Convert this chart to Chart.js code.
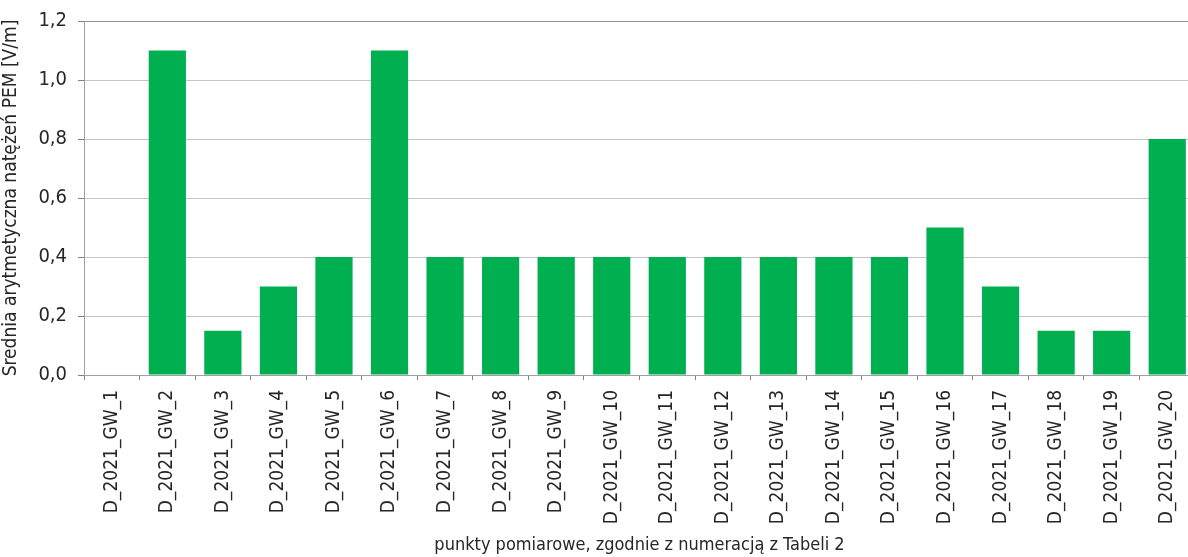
<!DOCTYPE html>
<html>
<head>
<meta charset="utf-8">
<script src="https://cdn.jsdelivr.net/npm/chart.js@4/dist/chart.umd.min.js"></script>
<style>
html,body{margin:0;padding:0;background:#fff;overflow:hidden;}
#wrap{width:1188px;height:557px;position:relative;overflow:hidden;}
canvas{display:block;}
</style>
</head>
<body>
<div id="wrap"><canvas id="c" width="1195" height="557"></canvas></div>
<script>
const categories = ["D_2021_GW_1","D_2021_GW_2","D_2021_GW_3","D_2021_GW_4","D_2021_GW_5","D_2021_GW_6","D_2021_GW_7","D_2021_GW_8","D_2021_GW_9","D_2021_GW_10","D_2021_GW_11","D_2021_GW_12","D_2021_GW_13","D_2021_GW_14","D_2021_GW_15","D_2021_GW_16","D_2021_GW_17","D_2021_GW_18","D_2021_GW_19","D_2021_GW_20"];
const values = [0, 1.1, 0.15, 0.3, 0.4, 1.1, 0.4, 0.4, 0.4, 0.4, 0.4, 0.4, 0.4, 0.4, 0.4, 0.5, 0.3, 0.15, 0.15, 0.8];
const yTitle = "Średnia arytmetyczna natężeń PEM [V/m]";
const xTitle = "punkty pomiarowe, zgodnie z numeracją z Tabeli 2";

const FONT = '"Liberation Sans Narrow", "Arial Narrow", "DejaVu Sans Condensed", sans-serif';
const TXT = '#262626';

new Chart(document.getElementById('c'), {
  type: 'bar',
  data: {
    labels: categories,
    datasets: [{
      data: values,
      backgroundColor: '#00b050',
      borderWidth: 0,
      barPercentage: 0.67,
      categoryPercentage: 1.0
    }]
  },
  options: {
    responsive: false,
    animation: false,
    layout: { padding: { top: 21, right: 0, bottom: 0, left: 0 } },
    plugins: { legend: { display: false }, tooltip: { enabled: false } },
    scales: {
      x: {
        offset: true,
        grid: { offset: true, drawOnChartArea: false, drawTicks: true, tickLength: 5, color: '#808080' },
        border: { color: '#a0a0a0' },
        ticks: { color: TXT, font: { family: FONT, size: 19 }, maxRotation: 90, minRotation: 90, autoSkip: false, padding: 10 },
        title: { display: true, text: xTitle, color: TXT, font: { family: FONT, size: 18 }, padding: { top: 0, bottom: 1 } },
        afterFit: (s) => { s.height = 182; s.paddingRight = 0; s.paddingLeft = 0; }
      },
      y: {
        min: 0, max: 1.2,
        ticks: { stepSize: 0.2, color: TXT, font: { family: FONT, size: 20 }, padding: 11,
          callback: (v) => v.toFixed(1).replace('.', ',') },
        grid: { color: (ctx) => (ctx.tick && ctx.tick.value >= 1.2 ? '#909090' : '#c4c4c4'), tickLength: 6, tickColor: '#808080' },
        border: { color: '#a0a0a0' },
        title: { display: true, text: yTitle, color: TXT, font: { family: FONT, size: 19 }, padding: { top: 0, bottom: 0 } },
        afterFit: (s) => { s.width = 84; s.paddingTop = 0; s.paddingBottom = 0; }
      }
    }
  }
});
</script>
</body>
</html>
